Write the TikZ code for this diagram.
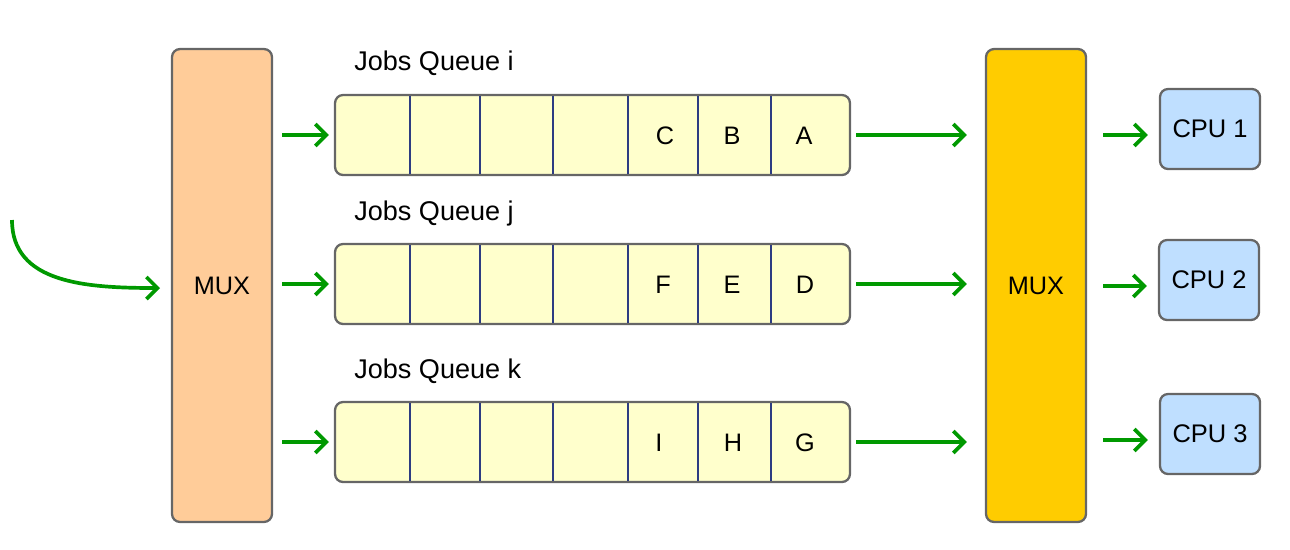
\documentclass[tikz,border=0pt]{standalone}
\usepackage{fontspec}
\setmainfont{Liberation Sans}
\usetikzlibrary{arrows.meta}
\definecolor{muxorange}{RGB}{255,204,153}
\definecolor{muxgold}{RGB}{255,204,0}
\definecolor{queuefill}{RGB}{255,255,204}
\definecolor{cpufill}{RGB}{191,223,255}
\definecolor{edgegray}{RGB}{102,102,102}
\definecolor{sepblue}{RGB}{45,60,130}
\definecolor{flowgreen}{RGB}{0,153,0}
\tikzstyle{mux} = [rectangle, rounded corners=0.16cm, minimum width=2cm, minimum height=9.46cm, text centered, draw=edgegray, line width=1.3pt, font=\fontsize{14.4}{17}\selectfont]
\tikzstyle{queue} = [rectangle, rounded corners=0.16cm, minimum width=10.3cm, minimum height=1.6cm, draw=edgegray, fill=queuefill, line width=1.3pt]
\tikzstyle{cpu} = [rectangle, rounded corners=0.16cm, minimum width=2cm, minimum height=1.6cm, text centered, draw=edgegray, fill=cpufill, line width=1.3pt, font=\fontsize{14.5}{17}\selectfont]
\tikzstyle{title} = [anchor=west, inner sep=0pt, font=\fontsize{15.4}{18}\selectfont]
\tikzstyle{job} = [inner sep=0pt, font=\fontsize{14.4}{17}\selectfont]
\tikzstyle{arrow} = [draw=flowgreen, line width=2.1pt, -{Straight Barb[length=2.2mm,width=4.4mm]}]

\begin{document}
\begin{tikzpicture}[x=0.02cm, y=-0.02cm]
    \useasboundingbox (0,0) rectangle (1290,549);

    \node (muxa) [mux, fill=muxorange] at (222,285.5) {MUX};
    \node (muxb) [mux, fill=muxgold] at (1036,285.5) {MUX};

    \node (ti) [title] at (354,63) {Jobs Queue i};
    \node (tj) [title] at (354,213) {Jobs Queue j};
    \node (tk) [title] at (354,371) {Jobs Queue k};

    \node (qi) [queue] at (592.5,135) {};
    \node (qj) [queue] at (592.5,284) {};
    \node (qk) [queue] at (592.5,442) {};

    % cell borders
    \foreach \top/\bot in {96/174, 245/323, 403/481}
        \foreach \x in {410,480,553,628,698,771}
            \draw [sepblue, line width=1.2pt] (\x,\top) -- (\x,\bot);

    \node (jc) [job] at (665,136) {C};
    \node (jb) [job] at (732,136) {B};
    \node (ja) [job] at (804,136) {A};
    \node (jf) [job] at (663,285) {F};
    \node (je) [job] at (732,285) {E};
    \node (jd) [job] at (805,285) {D};
    \node (ji) [job] at (659,443) {I};
    \node (jh) [job] at (733,443) {H};
    \node (jg) [job] at (805,443) {G};

    \node (cpu1) [cpu] at (1210,129) {CPU 1};
    \node (cpu2) [cpu] at (1209,280) {CPU 2};
    \node (cpu3) [cpu] at (1210,434) {CPU 3};

    \coordinate (src) at (12,220);
    \coordinate (entry) at (160,288);

    \draw [arrow] (src) .. controls (12,283) and (85,288) .. (entry);

    \foreach \q in {qi,qj,qk}
        \draw [arrow, shorten <=0.18cm, shorten >=0.1cm] (muxa.east |- \q.west) -- (\q.west);
    \foreach \q in {qi,qj,qk}
        \draw [arrow, shorten <=0.1cm, shorten >=0.36cm] (\q.east) -- (muxb.west |- \q.east);
    \draw [arrow, shorten <=0.32cm, shorten >=0.22cm] (muxb.east |- 0,135) -- (cpu1.west |- 0,135);
    \draw [arrow, shorten <=0.32cm, shorten >=0.22cm] (muxb.east |- 0,286) -- (cpu2.west |- 0,286);
    \draw [arrow, shorten <=0.32cm, shorten >=0.22cm] (muxb.east |- 0,440) -- (cpu3.west |- 0,440);
\end{tikzpicture}
\end{document}
